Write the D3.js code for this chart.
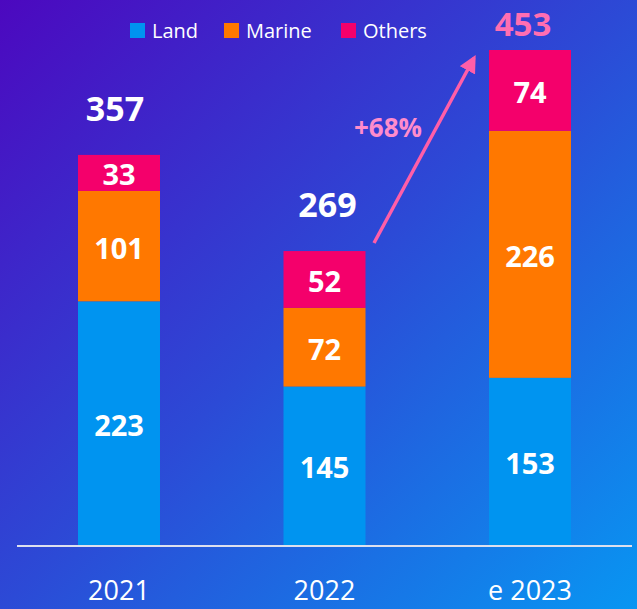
<!DOCTYPE html>
<html>
<head>
<meta charset="utf-8">
<script src="https://cdn.jsdelivr.net/npm/d3@7"></script>
<style>
  body { margin: 0; padding: 0; overflow: hidden; }
  svg { display: block; font-family: "Open Sans", "Noto Sans", sans-serif; }
</style>
</head>
<body>
<svg id="chart" width="637" height="609"></svg>
<script>
var years = ["2021", "2022", "e 2023"];
var land = [223, 145, 153];
var marine = [101, 72, 226];
var others = [33, 52, 74];
var totals = [357, 269, 453];
var seriesNames = ["Land", "Marine", "Others"];
var seriesColors = ["#0094f0", "#ff7800", "#f4006b"];
var growthLabel = "+68%";

var svg = d3.select("#chart");
var W = 637, H = 609;

// background gradient
var defs = svg.append("defs");
var grad = defs.append("linearGradient")
    .attr("id", "bg")
    .attr("x1", "0%").attr("y1", "0%")
    .attr("x2", "100%").attr("y2", "100%");
grad.append("stop").attr("offset", "0%").attr("stop-color", "#4c08bf");
grad.append("stop").attr("offset", "50%").attr("stop-color", "#2c4ad6");
grad.append("stop").attr("offset", "100%").attr("stop-color", "#0896f2");
svg.append("rect").attr("width", W).attr("height", H).attr("fill", "url(#bg)");

var x = d3.scalePoint().domain(years).range([119, 530]);
var y = d3.scaleLinear().domain([0, 453]).range([545, 50]);

var table = years.map(function(yr, i) {
    return {year: yr, Land: land[i], Marine: marine[i], Others: others[i]};
});
var stacked = d3.stack().keys(seriesNames)(table);

var bw = 82;

var layers = svg.selectAll("g.layer")
    .data(stacked)
    .enter().append("g")
    .attr("class", "layer")
    .attr("fill", function(d, i) { return seriesColors[i]; });

layers.selectAll("rect")
    .data(function(d) { return d; })
    .enter().append("rect")
    .attr("x", function(d) { return x(d.data.year) - bw / 2; })
    .attr("y", function(d) { return y(d[1]); })
    .attr("width", bw)
    .attr("height", function(d) { return y(d[0]) - y(d[1]); });

layers.selectAll("text")
    .data(function(d) { return d; })
    .enter().append("text")
    .attr("x", function(d) { return x(d.data.year); })
    .attr("y", function(d) { return (y(d[0]) + y(d[1])) / 2 + 2; })
    .attr("dy", "0.36em")
    .attr("text-anchor", "middle")
    .attr("fill", "#fff")
    .attr("font-size", 29)
    .attr("font-weight", "bold")
    .text(function(d) { return d[1] - d[0]; });

// totals
svg.selectAll("text.total")
    .data(totals)
    .enter().append("text")
    .attr("class", "total")
    .attr("x", function(d, i) { return x(years[i]) + [-4, 3, -7][i]; })
    .attr("y", function(d, i) { return i == 2 ? 24 : y(d) - 46; })
    .attr("dy", "0.36em")
    .attr("text-anchor", "middle")
    .attr("fill", function(d, i) { return i == 2 ? "#ff6eb2" : "#fff"; })
    .attr("font-size", function(d, i) { return i == 2 ? 33 : 34; })
    .attr("font-weight", "bold")
    .text(function(d) { return d; });

// axis line
svg.append("line")
    .attr("x1", 17).attr("x2", 632)
    .attr("y1", y(0) + 1).attr("y2", y(0) + 1)
    .attr("stroke", "#dde0ee").attr("stroke-width", 2);

// year labels
svg.selectAll("text.year")
    .data(years)
    .enter().append("text")
    .attr("class", "year")
    .attr("x", function(d) { return x(d); })
    .attr("y", 600)
    .attr("text-anchor", "middle")
    .attr("fill", "#fff")
    .attr("font-size", 27)
    .text(function(d) { return d; });

// growth arrow
defs.append("marker")
    .attr("id", "arrowhead")
    .attr("viewBox", "0 0 10 10")
    .attr("refX", 8).attr("refY", 5)
    .attr("markerWidth", 5).attr("markerHeight", 5)
    .attr("orient", "auto")
    .append("path").attr("d", "M0,0 L10,5 L0,10 z").attr("fill", "#ff5ea8");
svg.append("line")
    .attr("x1", 374).attr("y1", 243)
    .attr("x2", 474).attr("y2", 58)
    .attr("stroke", "#ff5ea8").attr("stroke-width", 3.5)
    .attr("marker-end", "url(#arrowhead)");
svg.append("text")
    .attr("x", 388).attr("y", 128)
    .attr("dy", "0.36em")
    .attr("text-anchor", "middle")
    .attr("fill", "#ff8ccc")
    .attr("font-size", 26)
    .attr("font-weight", "bold")
    .text(growthLabel);

// legend
var legend = svg.append("g").attr("transform", "translate(130,23)");
var lx = [0, 94, 211];
seriesNames.forEach(function(name, i) {
    var g = legend.append("g").attr("transform", "translate(" + lx[i] + ",0)");
    g.append("rect").attr("width", 15).attr("height", 15).attr("fill", seriesColors[i]);
    g.append("text").attr("x", 22).attr("y", 8).attr("dy", "0.36em")
        .attr("fill", "#fff").attr("font-size", 20).text(name);
});
</script>
</body>
</html>
